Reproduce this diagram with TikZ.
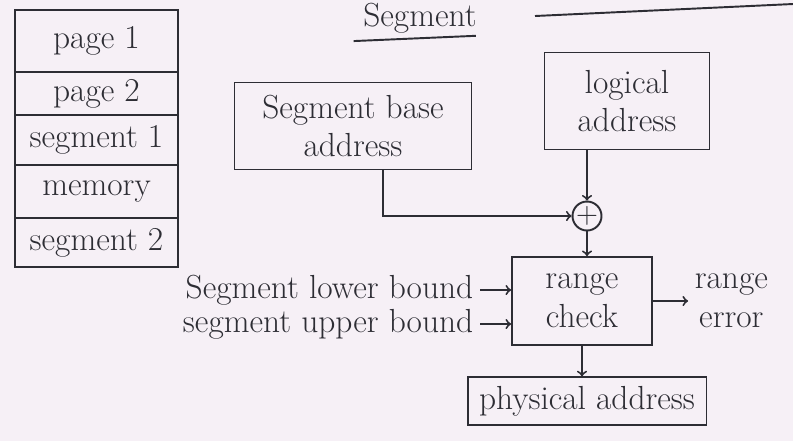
\documentclass[tikz,border=0pt]{standalone}
\usetikzlibrary{arrows,positioning}
\definecolor{paper}{RGB}{246,240,246}
\definecolor{ink}{RGB}{45,45,52}

\begin{document}
\begin{tikzpicture}[
  x=0.02cm,y=-0.02cm,
  color=ink,line width=1.1pt,>=to,
  font=\fontsize{19}{22}\selectfont,
  cell/.style={draw,minimum width=3.26cm,inner sep=2pt,outer sep=0pt},
  box/.style={draw,align=center,inner sep=3pt}
]
  \fill[paper] (0,0) rectangle (793,441);
  \useasboundingbox (0,0) rectangle (793,441);

  \node[cell,minimum height=1.24cm,anchor=north west] (page1) at (15,10) {page 1};
  \node[cell,minimum height=0.86cm,below=0pt of page1] (page2) {page 2};
  \node[cell,minimum height=1cm,below=0pt of page2] (seg1) {segment 1};
  \node[cell,minimum height=1.06cm,below=0pt of seg1] (mem) {memory};
  \node[cell,minimum height=0.98cm,below=0pt of mem] (seg2) {segment 2};

  \node[inner sep=1pt] (title) at (420,18) {Segment};
  \node[box,minimum width=4.74cm,minimum height=1.74cm] (base) at (353,126) {Segment base\\address};
  \node[box,minimum width=3.3cm,minimum height=1.94cm] (logical) at (627,101) {logical\\address};
  \node[draw,circle,inner sep=0pt,minimum size=0.55cm] (plus) at (587,216) {$+$};
  \node[box,minimum width=2.8cm,minimum height=1.76cm] (range) at (582,301) {range\\check};
  \node[box,minimum width=4.78cm,minimum height=0.95cm] (phys) at (587,401) {physical address};
  \node[anchor=east] (lower) at (480,290) {Segment lower bound};
  \node[anchor=east] (upper) at (480,324) {segment upper bound};
  \node[align=center,anchor=west] (err) at (688,301) {range\\error};
  \coordinate (bend) at (383,216);

  \draw ([xshift=-4pt,yshift=-3pt]title.south west) -- ([xshift=-2pt,yshift=0pt]title.south east);
  \draw (535,16) -- (793,4);
  \draw[->] (base.south -| bend) -- (bend) -- (plus);
  \draw[->] (logical.south -| plus) -- (plus);
  \draw[->] (plus) -- (range.north -| plus);
  \draw[->] (lower) -- (lower -| range.west);
  \draw[->] (upper) -- (upper -| range.west);
  \draw[->] (range) -- (err);
  \draw[->] (range) -- (phys.north -| range);
\end{tikzpicture}
\end{document}
